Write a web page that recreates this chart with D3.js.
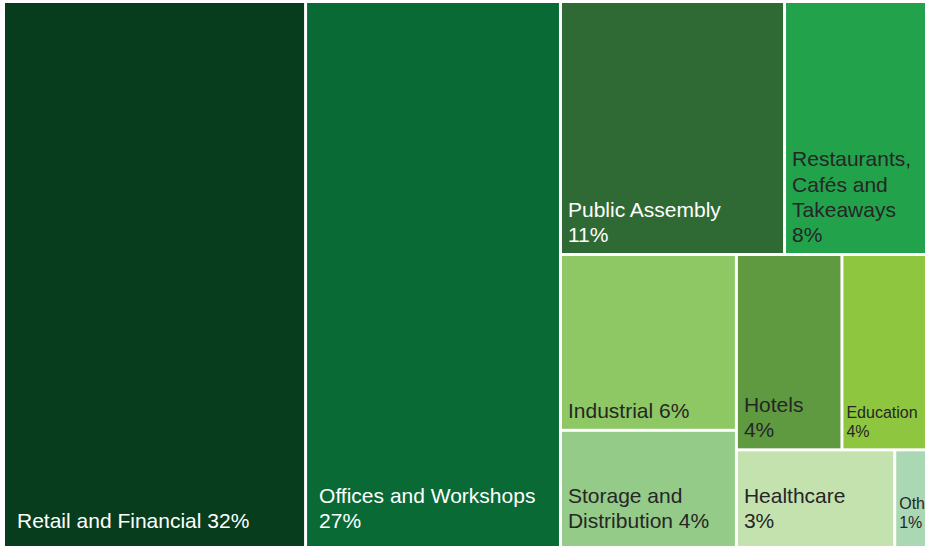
<!DOCTYPE html>
<html>
<head>
<meta charset="utf-8">
<script src="https://cdn.jsdelivr.net/npm/d3@7"></script>
<style>
  html, body { margin: 0; padding: 0; background: #ffffff; }
  svg { display: block; }
  text { font-family: "Liberation Sans", Arial, sans-serif; }
</style>
</head>
<body>
<svg id="chart" width="925" height="546"></svg>
<script>
// Share of floor space by building use (%)
const categories = [
  "Retail and Financial",
  "Offices and Workshops",
  "Public Assembly",
  "Restaurants, Cafés and Takeaways",
  "Industrial",
  "Storage and Distribution",
  "Hotels",
  "Education",
  "Healthcare",
  "Other"
];
const shares = [32, 27, 11, 8, 6, 4, 4, 4, 3, 1];
const colours = [
  "#073d1c", "#096a36", "#2f6a35", "#21a24b", "#8dc864",
  "#94cb88", "#5f9a41", "#8ec63f", "#c4e2ae", "#abd8b4"
];
// Nesting of the tiles (indices into the arrays above)
const layoutGroups = [0, 1, [[2, 3], [[4, 5], [[6, 7], [8, 9]]]]];

// Styling
const lightText = new Set(["Retail and Financial", "Offices and Workshops", "Public Assembly"]);
const compactLabels = new Set(["Education", "Other"]);

const svg = d3.select("#chart");
const W = 941, H = 543;
const g = svg.append("g").attr("transform", "translate(5,3)");

function build(node) {
  return Array.isArray(node)
    ? { children: node.map(build) }
    : { name: categories[node], value: shares[node], index: node };
}

const root = d3.hierarchy(build(layoutGroups))
  .sum(d => d.children ? 0 : d.value);

d3.treemap()
  .tile(d3.treemapSliceDice)
  .size([W, H])
  .paddingInner(3)
  (root);

const leaves = root.leaves();

const cell = g.selectAll("g.cell")
  .data(leaves)
  .join("g")
  .attr("class", "cell");

cell.append("rect")
  .attr("x", d => d.x0)
  .attr("y", d => d.y0)
  .attr("width", d => d.x1 - d.x0)
  .attr("height", d => d.y1 - d.y0)
  .attr("fill", d => colours[d.data.index]);

// Word-wrapped labels anchored to the bottom-left of each tile
const measurer = svg.append("text").attr("visibility", "hidden");
function measure(str, size) {
  measurer.attr("font-size", size).text(str);
  return measurer.node().getComputedTextLength();
}

cell.each(function(d) {
  const compact = compactLabels.has(d.data.name);
  const size = compact ? 16 : 21;
  const lineH = size * 1.2;
  const w = d.x1 - d.x0;
  const pad = compact ? 3 : (w > 240 ? 12 : 6);
  const maxW = w - 24;
  const words = `${d.data.name} ${d.data.value}%`.split(" ");
  const lines = [];
  let cur = "";
  words.forEach(word => {
    const trial = cur ? cur + " " + word : word;
    if (cur && measure(trial, size) > maxW) {
      lines.push(cur);
      cur = word;
    } else {
      cur = trial;
    }
  });
  if (cur) lines.push(cur);

  const bottomGap = d.y1 >= H - 0.5 ? 18 : 11;
  const lastBaseline = d.y1 - bottomGap;
  const t = d3.select(this).append("text")
    .attr("font-size", size)
    .attr("fill", lightText.has(d.data.name) ? "#ffffff" : "#262626");
  lines.forEach((line, i) => {
    t.append("tspan")
      .attr("x", d.x0 + pad)
      .attr("y", lastBaseline - (lines.length - 1 - i) * lineH)
      .text(line);
  });
});

measurer.remove();
</script>
</body>
</html>
